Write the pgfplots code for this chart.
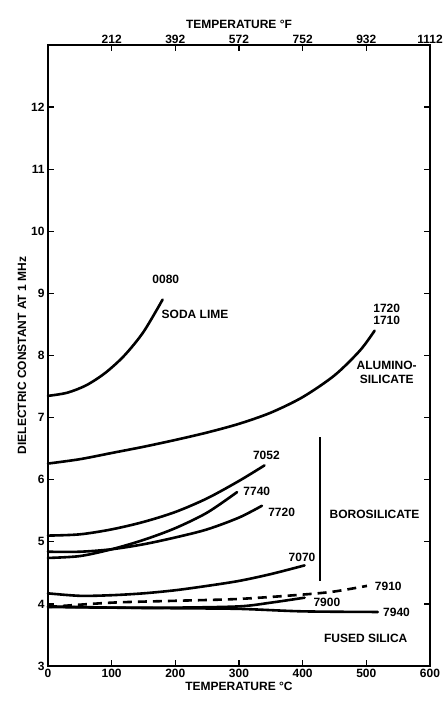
\documentclass[border=0pt]{standalone}
\usepackage{fontspec}
\setmainfont{Liberation Sans}
\usepackage{pgfplots}
\pgfplotsset{compat=1.18}

\begin{document}
\begin{tikzpicture}
\pgfplotsset{
  every axis/.append style={
    scale only axis,
    width=382pt, height=621pt,
    ymin=3, ymax=13,
    font=\fontsize{12}{14}\selectfont\bfseries,
    /pgf/number format/assume math mode=true,
    axis line style={line width=1.6pt},
    major tick length=6pt,
    tick style={line width=1.2pt, black},
  },
  curve/.style={black, line width=2.6pt, smooth, mark=none, line cap=round},
}
% top axis in degrees F
\begin{axis}[
    name=top,
    xmin=32, xmax=1112,
    axis x line*=top,
    axis y line=none,
    xtick={212,392,572,752,932,1112},
    xtick align=inside,
    xlabel={TEMPERATURE °F},
    xlabel style={yshift=-1pt},
    xticklabel style={yshift=-2pt},
    /pgf/number format/1000 sep={},
]
\addplot[draw=none] coordinates {(32,3)(1112,3)};
\end{axis}
% main axis in degrees C
\begin{axis}[
    name=ax,
    xmin=0, xmax=600,
    xtick={0,100,...,600},
    ytick={3,4,...,12},
    xtick pos=bottom,
    ytick pos=both,
    tick align=inside,
    xlabel={TEMPERATURE °C},
    ylabel={DIELECTRIC CONSTANT AT 1 MHz},
    xlabel style={yshift=3pt},
    ylabel style={yshift=-2pt},
    clip=false,
]
% 0080 soda lime
\addplot[curve] coordinates {(0,7.35)(30,7.4)(60,7.52)(90,7.72)(120,8.0)(150,8.38)(180,8.9)};
% 1720 / 1710 aluminosilicate
\addplot[curve] coordinates {(0,6.26)(50,6.33)(100,6.43)(150,6.53)(200,6.64)(250,6.76)(300,6.9)(350,7.08)(400,7.33)(450,7.68)(490,8.08)(513,8.4)};
% 7052
\addplot[curve] coordinates {(0,5.1)(50,5.12)(100,5.2)(150,5.32)(200,5.48)(250,5.7)(300,5.98)(340,6.23)};
% 7740
\addplot[curve] coordinates {(0,4.74)(50,4.77)(100,4.88)(150,5.03)(200,5.22)(250,5.47)(297,5.8)};
% 7720
\addplot[curve] coordinates {(0,4.84)(50,4.84)(100,4.88)(150,4.96)(200,5.07)(250,5.2)(300,5.39)(336,5.58)};
% 7070
\addplot[curve] coordinates {(0,4.17)(50,4.13)(100,4.14)(150,4.17)(200,4.22)(250,4.29)(300,4.37)(350,4.48)(403,4.62)};
% 7910 dashed
\addplot[curve, line cap=butt, dash pattern=on 9pt off 6pt] coordinates {(0,3.95)(100,4.02)(200,4.05)(300,4.08)(400,4.15)(450,4.2)(501,4.29)};
% 7900
\addplot[curve] coordinates {(0,3.95)(100,3.94)(200,3.94)(300,3.96)(350,4.02)(403,4.1)};
% 7940
\addplot[curve] coordinates {(0,3.96)(100,3.94)(200,3.93)(300,3.92)(400,3.88)(518,3.87)};
% borosilicate bracket
\addplot[black, line width=1.8pt, mark=none] coordinates {(427,6.68)(427,4.37)};

\node at (axis cs:185,9.23) {0080};
\node at (axis cs:231,8.66) {SODA LIME};
\node[align=center, font=\fontsize{12}{12}\selectfont\bfseries] at (axis cs:532,8.66) {1720\\1710};
\node[align=center, font=\fontsize{12}{14}\selectfont\bfseries] at (axis cs:532,7.73) {ALUMINO-\\SILICATE};
\node at (axis cs:343,6.39) {7052};
\node at (axis cs:328,5.81) {7740};
\node at (axis cs:367,5.48) {7720};
\node at (axis cs:399,4.75) {7070};
\node at (axis cs:513,5.44) {BOROSILICATE};
\node[anchor=west] at (axis cs:508,4.29) {7910};
\node at (axis cs:438,4.03) {7900};
\node[anchor=west] at (axis cs:521,3.87) {7940};
\node at (axis cs:499,3.44) {FUSED SILICA};
\end{axis}
\useasboundingbox ([shift={(-48pt,-39pt)}]ax.south west) rectangle ([shift={(8pt,45pt)}]ax.north east);
\end{tikzpicture}
\end{document}
